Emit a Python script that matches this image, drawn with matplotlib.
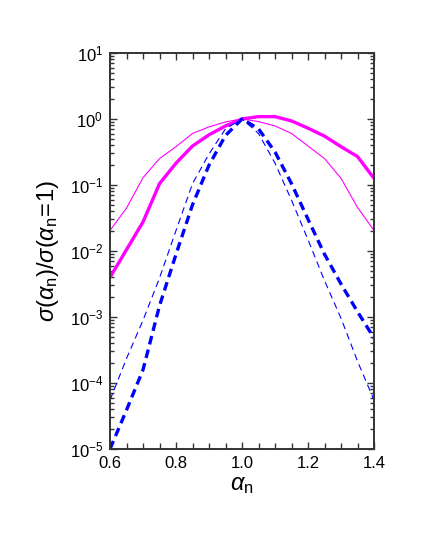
import numpy as np
import matplotlib
matplotlib.use('Agg')
import matplotlib.pyplot as plt
import matplotlib.ticker as ticker

plt.rcParams['font.family'] = ['Liberation Sans', 'DejaVu Sans']
plt.rcParams['mathtext.fontset'] = 'custom'
plt.rcParams['mathtext.rm'] = 'Liberation Sans'
plt.rcParams['mathtext.it'] = 'Liberation Sans:italic'

# alpha_n grid
alpha_n = [0.60, 0.65, 0.70, 0.75, 0.80, 0.85, 0.90, 0.95, 1.00,
           1.05, 1.10, 1.15, 1.20, 1.25, 1.30, 1.35, 1.40]

# log10 of sigma(alpha_n)/sigma(alpha_n=1)
log_mag_thick = [-2.40, -1.98, -1.56, -0.98, -0.67, -0.41, -0.24, -0.106, 0.0,
                 0.035, 0.035, -0.03, -0.14, -0.26, -0.42, -0.57, -0.90]
log_mag_thin = [-1.69, -1.35, -0.89, -0.60, -0.42, -0.22, -0.12, -0.045, 0.0,
                -0.04, -0.106, -0.22, -0.41, -0.60, -0.90, -1.34, -1.69]
log_blue_thick = [-5.00, -4.41, -3.80, -2.83, -2.05, -1.30, -0.70, -0.25, 0.0,
                  -0.15, -0.50, -0.98, -1.52, -2.05, -2.50, -2.92, -3.32]
log_blue_thin = [-4.26, -3.63, -3.05, -2.41, -1.69, -0.98, -0.53, -0.15, 0.0,
                 -0.22, -0.67, -1.23, -1.83, -2.45, -3.02, -3.67, -4.26]

fig = plt.figure(figsize=(4.22, 5.47), dpi=100)
ax = fig.add_axes([0.2607, 0.1792, 0.6256, 0.724])

x = np.array(alpha_n)
ax.plot(x, 10 ** np.array(log_mag_thin), color='#ff00ff', lw=0.8)
ax.plot(x, 10 ** np.array(log_mag_thick), color='#ff00ff', lw=2.4)
ax.plot(x, 10 ** np.array(log_blue_thin), color='#0000ff', lw=0.8, dashes=(6, 4))
ax.plot(x, 10 ** np.array(log_blue_thick), color='#0000ff', lw=2.4, dashes=(2.6, 1.6))

ax.set_yscale('log')
ax.set_xlim(0.6, 1.4)
ax.set_ylim(1e-5, 1e1)

ax.xaxis.set_major_locator(ticker.MultipleLocator(0.2))
ax.xaxis.set_minor_locator(ticker.MultipleLocator(0.05))
ax.xaxis.set_major_formatter(ticker.FormatStrFormatter('%.1f'))
ax.yaxis.set_major_locator(ticker.LogLocator(base=10, numticks=10))
ax.yaxis.set_minor_locator(ticker.LogLocator(base=10, subs=np.arange(2, 10), numticks=10))
ax.yaxis.set_minor_formatter(ticker.NullFormatter())

ax.tick_params(which='both', direction='in', top=True, right=True, width=1.0,
               color='#333333')
ax.tick_params(which='major', length=5, labelsize=12, pad=5)
ax.tick_params(which='minor', length=3)
ax.tick_params(axis='x', which='minor', length=4)
for s in ax.spines.values():
    s.set_linewidth(1.4)
    s.set_color('#333333')

ax.set_xlabel(r'$\alpha_{\rm n}$', fontsize=17, labelpad=2)
ax.set_ylabel(r'$\sigma(\alpha_{\rm n})/\sigma(\alpha_{\rm n}\!=\!1)$', fontsize=17, labelpad=6)

fig.savefig('out.png', dpi=100)
plt.close(fig)
